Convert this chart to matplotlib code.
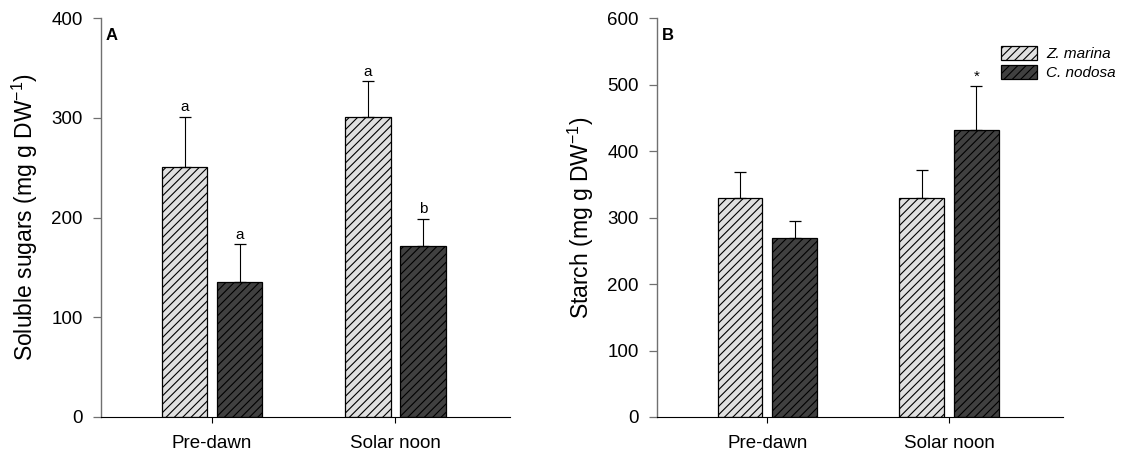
import matplotlib
matplotlib.use("Agg")
import matplotlib.pyplot as plt
import numpy as np

plt.rcParams['font.family'] = ['Liberation Sans', 'DejaVu Sans']
plt.rcParams['hatch.linewidth'] = 0.8
plt.rcParams['mathtext.fontset'] = 'custom'
plt.rcParams['mathtext.rm'] = 'Liberation Sans'

groups = ["Pre-dawn", "Solar noon"]
species = ["Z. marina", "C. nodosa"]

sugar_zm = [251, 301]
sugar_zm_err = [50, 36]
sugar_cn = [135, 171]
sugar_cn_err = [38, 28]
sugar_lbl_zm = ["a", "a"]
sugar_lbl_cn = ["a", "b"]

starch_zm = [329, 330]
starch_zm_err = [39, 42]
starch_cn = [269, 431]
starch_cn_err = [26, 67]
starch_lbl_zm = ["", ""]
starch_lbl_cn = ["", "*"]

colors = ["#e0e0e0", "#404040"]

fig = plt.figure(figsize=(11.21, 4.53), dpi=100)
axA = fig.add_axes([0.090, 0.0795, 0.365, 0.8805])
axB = fig.add_axes([0.586, 0.0795, 0.362, 0.8805])

x = np.arange(len(groups))
w = 0.246
off = 0.15

def draw(ax, zm, zme, cn, cne, lz, lc, ymax, ylabel, letter, legend=False):
    ax.bar(x - off, zm, w, color=colors[0], edgecolor='black', linewidth=0.9,
           hatch='////', label=species[0], zorder=2)
    ax.bar(x + off, cn, w, color=colors[1], edgecolor='black', linewidth=0.9,
           hatch='////', label=species[1], zorder=2)
    ax.errorbar(x - off, zm, yerr=[np.zeros(len(zm)), zme], fmt='none', ecolor='black',
                elinewidth=0.8, capsize=4, capthick=0.9, zorder=3)
    ax.errorbar(x + off, cn, yerr=[np.zeros(len(cn)), cne], fmt='none', ecolor='black',
                elinewidth=0.8, capsize=4, capthick=0.9, zorder=3)
    for xi, v, e, t in zip(x - off, zm, zme, lz):
        if t:
            ax.text(xi, v + e + ymax * 0.006, t, ha='center', va='bottom', fontsize=11)
    for xi, v, e, t in zip(x + off, cn, cne, lc):
        if t:
            ax.text(xi, v + e + ymax * 0.006, t, ha='center', va='bottom', fontsize=11)
    ax.set_xlim(-0.607, 1.625)
    ax.set_ylim(0, ymax)
    ax.set_yticks(np.arange(0, ymax + 1, 100))
    ax.set_xticks(x)
    ax.set_xticklabels(groups, fontsize=13.5)
    ax.tick_params(axis='y', labelsize=13.5, direction='out', length=6, width=0.9,
                   color='#707070', pad=7)
    ax.tick_params(axis='x', direction='out', length=4, width=0.8, pad=9)
    for s in ['top', 'right']:
        ax.spines[s].set_visible(False)
    ax.spines['left'].set_color('#707070')
    ax.spines['left'].set_linewidth(1.0)
    ax.spines['bottom'].set_linewidth(0.8)
    ax.set_ylabel(ylabel, fontsize=16.5, labelpad=8)
    ax.text(0.012, 0.975, letter, transform=ax.transAxes, fontsize=12,
            fontweight='bold', ha='left', va='top')
    if legend:
        ax.legend(loc='upper right', bbox_to_anchor=(1.145, 0.945), frameon=False,
                  prop={'style': 'italic', 'size': 11},
                  handlelength=2.35, handleheight=1.0, labelspacing=0.26,
                  handletextpad=0.6, borderaxespad=0)

draw(axA, sugar_zm, sugar_zm_err, sugar_cn, sugar_cn_err, sugar_lbl_zm, sugar_lbl_cn,
     400, r"Soluble sugars (mg g DW$^{-1}$)", "A")
draw(axB, starch_zm, starch_zm_err, starch_cn, starch_cn_err, starch_lbl_zm, starch_lbl_cn,
     600, r"Starch (mg g DW$^{-1}$)", "B", legend=True)

fig.savefig("out.png", dpi=100)
